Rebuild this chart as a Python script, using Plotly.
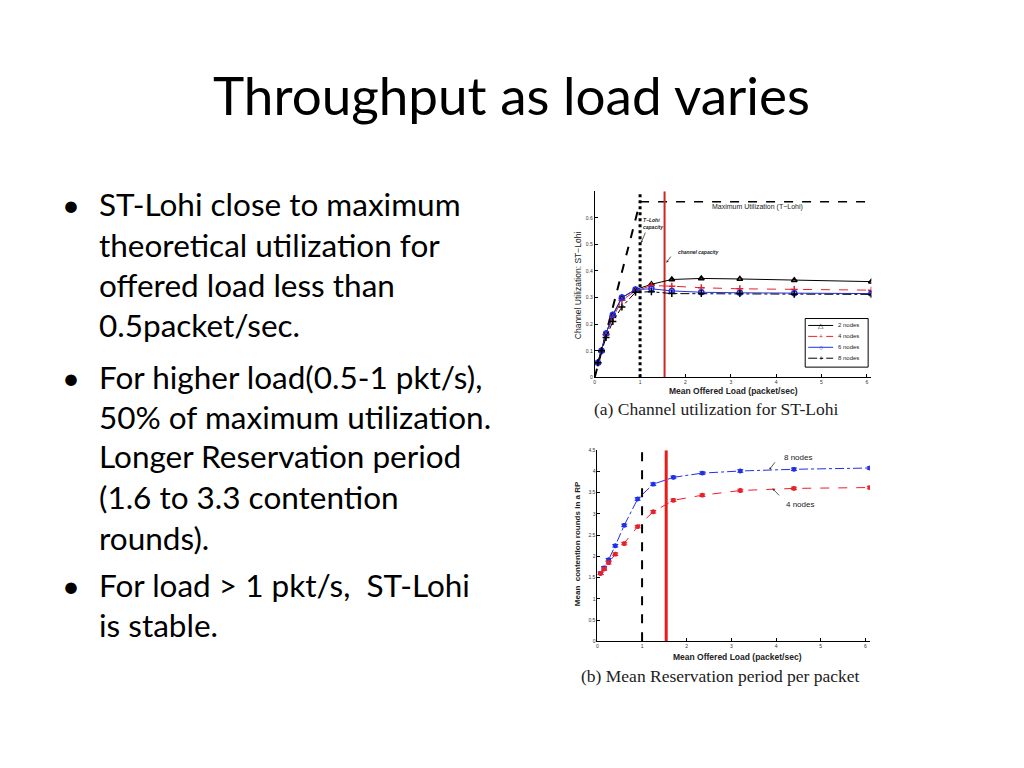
import plotly.graph_objects as go

W, H = 1024, 768

# ---------------- data ----------------
load_x = [0.07, 0.15, 0.25, 0.4, 0.6, 0.9, 1.25, 1.7, 2.35, 3.2, 4.4, 6.1]
util_2 = [0.055, 0.10, 0.165, 0.235, 0.300, 0.330, 0.350, 0.368, 0.372, 0.370, 0.365, 0.360]
util_4 = [0.055, 0.10, 0.160, 0.225, 0.290, 0.325, 0.345, 0.343, 0.337, 0.333, 0.330, 0.328]
util_6 = [0.055, 0.10, 0.165, 0.235, 0.300, 0.330, 0.333, 0.325, 0.320, 0.318, 0.316, 0.315]
util_8 = [0.055, 0.10, 0.150, 0.210, 0.265, 0.320, 0.322, 0.315, 0.315, 0.315, 0.313, 0.312]

rounds_8 = [1.60, 1.73, 1.92, 2.25, 2.73, 3.35, 3.70, 3.86, 3.96, 4.01, 4.05, 4.08]
rounds_4 = [1.60, 1.70, 1.85, 2.05, 2.30, 2.70, 3.05, 3.32, 3.44, 3.55, 3.60, 3.62]
rounds_err = [0.03] * 12

tlohi_capacity = 1.0
channel_capacity = 1.54
max_util = 0.66
x_max = 6.1

util_yticks = [0, 0.1, 0.2, 0.3, 0.4, 0.5, 0.6]
util_yticklabels = ["0", "0.1", "0.2", "0.3", "0.4", "0.5", "0.6"]
rounds_yticks = [0, 0.5, 1, 1.5, 2, 2.5, 3, 3.5, 4, 4.5]
rounds_yticklabels = ["0", "0.5", "1", "1.5", "2", "2.5", "3", "3.5", "4", "4.5"]
load_xticks = [0, 1, 2, 3, 4, 5, 6]

title_text = "Throughput as load varies"
bullets = [
    ["ST-Lohi close to maximum", "theoretical utilization for",
     "offered load less than", "0.5packet/sec."],
    ["For higher load(0.5-1 pkt/s),", "50% of maximum utilization.",
     "Longer Reservation period", "(1.6 to 3.3 contention", "rounds)."],
    ["For load > 1 pkt/s,  ST-Lohi", "is stable."],
]
bullet_baselines = [[216, 257, 297, 338], [390, 430, 470, 511, 552], [600, 640]]

legend_names = ["2 nodes", "4 nodes", "6 nodes", "8 nodes"]
legend_colors = ["black", "#e8202a", "#2030e8", "black"]
legend_dashes = ["solid", "dash", "solid", "dashdot"]
legend_glyphs = ["\u25b3", "+", "\u25cb", "+"]


def px(x):
    return x / W


def py(y):
    return 1 - y / H


fig = go.Figure()

# ---------------- top chart: channel utilization ----------------
fig.add_trace(go.Scatter(x=[0, tlohi_capacity], y=[0, max_util], mode="lines",
                         line=dict(color="black", width=2, dash="dash"),
                         showlegend=False, xaxis="x", yaxis="y"))
fig.add_trace(go.Scatter(x=[tlohi_capacity, x_max], y=[max_util, max_util], mode="lines",
                         line=dict(color="black", width=1.5, dash="dash"),
                         showlegend=False, xaxis="x", yaxis="y"))
fig.add_trace(go.Scatter(x=[tlohi_capacity, tlohi_capacity], y=[0, 0.7], mode="lines",
                         line=dict(color="black", width=3, dash="dot"),
                         showlegend=False, xaxis="x", yaxis="y"))
fig.add_trace(go.Scatter(x=[channel_capacity, channel_capacity], y=[0, 0.7], mode="lines",
                         line=dict(color="#d02424", width=2),
                         showlegend=False, xaxis="x", yaxis="y"))

series = [
    (util_2, "black", "solid", "triangle-up-open"),
    (util_4, "#e8202a", "dash", "cross-thin-open"),
    (util_6, "#2030e8", "solid", "circle-open"),
    (util_8, "black", "dashdot", "cross-thin-open"),
]
for (vals, col, dash, sym), name in zip(series, legend_names):
    fig.add_trace(go.Scatter(x=load_x, y=vals, mode="lines+markers", name=name,
                             line=dict(color=col, width=1, dash=dash),
                             marker=dict(symbol=sym, size=5, color=col,
                                         line=dict(color=col, width=1.5)),
                             showlegend=False, xaxis="x", yaxis="y"))

# ---------------- bottom chart: reservation period ----------------
fig.add_trace(go.Scatter(x=[tlohi_capacity, tlohi_capacity], y=[0, 4.5], mode="lines",
                         line=dict(color="black", width=2, dash="dash"),
                         showlegend=False, xaxis="x2", yaxis="y2"))
fig.add_trace(go.Scatter(x=[channel_capacity, channel_capacity], y=[0, 4.5], mode="lines",
                         line=dict(color="#e81c1c", width=3),
                         showlegend=False, xaxis="x2", yaxis="y2"))
for vals, col, dash in [(rounds_8, "#2030e8", "dashdot"), (rounds_4, "#e8202a", "dash")]:
    fig.add_trace(go.Scatter(x=load_x, y=vals, mode="lines+markers",
                             line=dict(color=col, width=1, dash=dash),
                             marker=dict(symbol="asterisk-open", size=4, color=col,
                                         line=dict(color=col, width=1.5)),
                             error_y=dict(type="data", array=rounds_err, color=col,
                                          thickness=1, width=3),
                             showlegend=False, xaxis="x2", yaxis="y2"))

tickfont = dict(family="Liberation Sans, Arial", size=5, color="#333333")
axis_common = dict(showgrid=False, zeroline=False, showline=True, linecolor="black",
                   linewidth=1, ticks="inside", ticklen=3, tickcolor="black",
                   tickfont=tickfont, mirror=False)

fig.update_layout(
    width=W, height=H,
    margin=dict(l=0, r=0, t=0, b=0),
    paper_bgcolor="white", plot_bgcolor="white",
    xaxis=dict(domain=[px(594.3), px(871.2)], range=[0, x_max], anchor="y",
               tickvals=load_xticks, **axis_common),
    yaxis=dict(domain=[py(377.3), py(189.7)], range=[0, 0.7], anchor="x",
               tickvals=util_yticks, ticktext=util_yticklabels, **axis_common),
    xaxis2=dict(domain=[px(597), px(869.7)], range=[0, x_max], anchor="y2",
                tickvals=load_xticks, **axis_common),
    yaxis2=dict(domain=[py(643.3), py(450.7)], range=[0, 4.5], anchor="x2",
                tickvals=rounds_yticks, ticktext=rounds_yticklabels, **axis_common),
    showlegend=False,
)

ann = []
shapes = []


def text(t, x, y, size, family="Liberation Sans, Arial", color="#222", xanchor="center",
         angle=0, align="center"):
    ann.append(dict(text=t, x=px(x), y=py(y), xref="paper", yref="paper",
                    xanchor=xanchor, yanchor="middle", showarrow=False, textangle=angle,
                    align=align, font=dict(family=family, size=size, color=color)))


# slide title
text(title_text, 511, 92, 53, family="Lato", color="black")
# bullets
for lines, bases in zip(bullets, bullet_baselines):
    text("\u2022", 70, bases[0] - 13, 31, family="Lato", color="black")
    for t, b in zip(lines, bases):
        text(t, 96, b - 13, 31.5, family="Lato", color="black", xanchor="left")

# axis titles
text("Channel Utilization: ST\u2212Lohi", 577, 284, 8.5, angle=-90)
text("<b>Mean Offered Load (packet/sec)</b>", 733, 391, 8.5)
text("<b>Mean  contention rounds in a RP</b>", 577, 545, 8, angle=-90)
text("<b>Mean Offered Load (packet/sec)</b>", 737, 659, 8.5)
# captions
text("(a) Channel utilization for ST-Lohi", 716, 409, 17.5, family="Liberation Serif")
text("(b) Mean Reservation period per packet", 720, 678, 17.5, family="Liberation Serif")

# manual legend (top chart)
shapes.append(dict(type="rect", xref="paper", yref="paper", x0=px(805), x1=px(868),
                   y0=py(367), y1=py(318), line=dict(color="black", width=1),
                   fillcolor="white", layer="above"))
for i, (nm, col, dsh, gl) in enumerate(zip(legend_names, legend_colors, legend_dashes,
                                            legend_glyphs)):
    yy = 325 + 11 * i
    shapes.append(dict(type="line", xref="paper", yref="paper", x0=px(808), x1=px(833),
                       y0=py(yy), y1=py(yy), line=dict(color=col, width=1, dash=dsh),
                       layer="above"))
    text(gl, 820.5, yy, 7, color=col)
    text(nm, 836, yy, 6, xanchor="left")

# in-plot annotations (top)
ann.append(dict(text="Maximum Utilization (T\u2212Lohi)", x=3.6, y=0.639, xref="x", yref="y",
                xanchor="center", showarrow=False,
                font=dict(family="Liberation Sans, Arial", size=7, color="#222")))
ann.append(dict(text="<b><i>T\u2212Lohi<br>capacity</i></b>", x=1.02, y=0.58, xref="x", yref="y",
                xanchor="left", align="left", showarrow=False,
                font=dict(family="Liberation Sans, Arial", size=5, color="#222")))
ann.append(dict(text="", x=1.02, y=0.505, ax=1.13, ay=0.55, xref="x", yref="y",
                axref="x", ayref="y", showarrow=True, arrowhead=2, arrowsize=0.6,
                arrowwidth=0.8, arrowcolor="#333"))
ann.append(dict(text="<b><i>channel capacity</i></b>", x=2.29, y=0.471, xref="x", yref="y",
                xanchor="center", showarrow=False,
                font=dict(family="Liberation Sans, Arial", size=5, color="#222")))
ann.append(dict(text="", x=1.58, y=0.431, ax=1.7, ay=0.46, xref="x", yref="y",
                axref="x", ayref="y", showarrow=True, arrowhead=2, arrowsize=0.6,
                arrowwidth=0.8, arrowcolor="#333"))
# in-plot annotations (bottom)
ann.append(dict(text="8 nodes", x=4.5, y=4.33, xref="x2", yref="y2", showarrow=False,
                xanchor="center", font=dict(family="Liberation Sans, Arial", size=8, color="#222")))
ann.append(dict(text="", x=3.87, y=4.07, ax=4.0, ay=4.25, xref="x2", yref="y2",
                axref="x2", ayref="y2", showarrow=True, arrowhead=6, arrowsize=0.6,
                arrowwidth=0.8, arrowcolor="#333"))
ann.append(dict(text="4 nodes", x=4.54, y=3.23, xref="x2", yref="y2", showarrow=False,
                xanchor="center", font=dict(family="Liberation Sans, Arial", size=8, color="#222")))
ann.append(dict(text="", x=3.92, y=3.6, ax=4.1, ay=3.4, xref="x2", yref="y2",
                axref="x2", ayref="y2", showarrow=True, arrowhead=2, arrowsize=0.6,
                arrowwidth=0.8, arrowcolor="#333"))

fig.update_layout(annotations=ann, shapes=shapes)
fig.write_html("out.html", config={"displayModeBar": False},
               post_script="document.body.style.margin='0';")
